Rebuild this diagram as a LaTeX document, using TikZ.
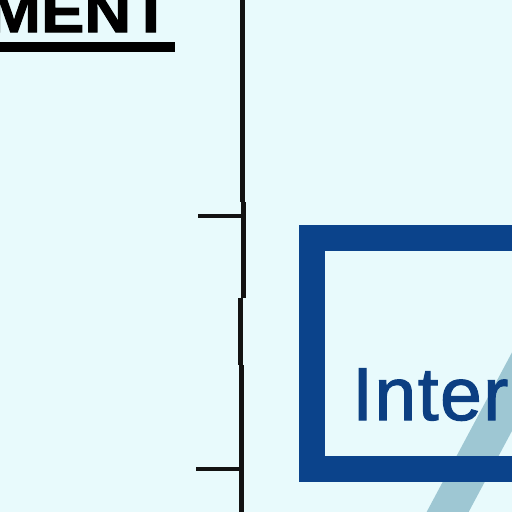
\documentclass[tikz,border=0pt]{standalone}
\usepackage{fontspec}
\setmainfont{Liberation Sans}
\newfontfamily\headfont[FakeBold=2, FakeStretch=1.1]{Liberation Sans Bold}
\newfontfamily\labelfont[FakeBold=1.5, LetterSpace=2]{Liberation Sans}
\usetikzlibrary{positioning,backgrounds}
\definecolor{paper}{HTML}{E8FAFC}
\definecolor{boxblue}{HTML}{0B438B}
\definecolor{textblue}{HTML}{0C3F82}
\definecolor{stripe}{HTML}{9EC7D3}
\tikzset{
  title/.style={font=\fontsize{59}{59}\headfont, inner sep=0pt, text=black},
  rulebar/.style={line width=10pt, draw=black},
  axisline/.style={line width=5pt, draw=black!93},
  tickline/.style={line width=4pt, draw=black!93},
  frame/.style={draw=boxblue, line width=26pt, inner sep=0pt},
  boxtext/.style={font=\fontsize{75}{75}\labelfont, text=textblue, inner sep=0pt}
}
\begin{document}
\begin{tikzpicture}[x=1pt, y=-1pt]
  \useasboundingbox (0,0) rectangle (512,512);
  \clip (0,0) rectangle (512,512);
  \fill[paper] (0,0) rectangle (512,512);

  % Diagonal band behind the box.
  \fill[stripe] (417,530) -- (459,530) -- (582,300) -- (540,300) -- cycle;

  % Heading.
  \node[title, anchor=base east] (title) at (171,32) {MENT};
  \draw[rulebar] (0,47) -- (175,47);

  % Scale line with its ticks.
  \draw[axisline] (242,-3) -- (242,202);
  \draw[axisline] (243,202) -- (243,298);
  \draw[axisline] (240,298) -- (240,365);
  \draw[axisline] (241,365) -- (241,515);
  \draw[tickline] (198,216) -- (243,216);
  \draw[tickline] (196,469) -- (241,469);

  % Internal box.
  \node[frame, minimum width=300pt, minimum height=231pt, anchor=north west,
    outer sep=13pt] (intbox) at (299,225) {};
  \node[boxtext, anchor=base west] (inttext) at (352,420) {Internal};
\end{tikzpicture}
\end{document}
